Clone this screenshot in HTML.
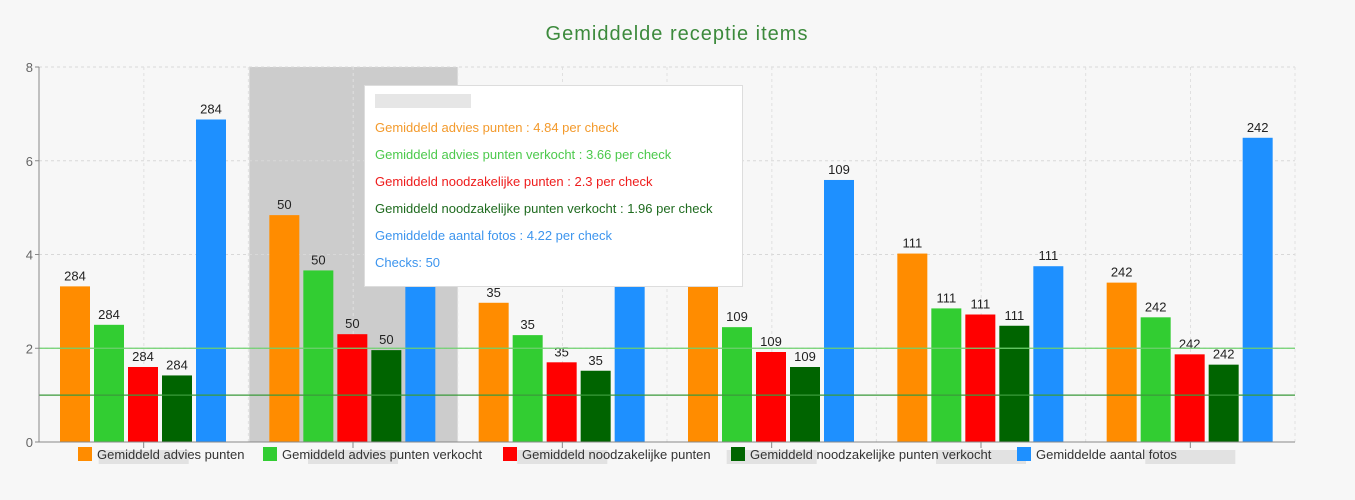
<!DOCTYPE html>
<html><head><meta charset="utf-8">
<style>
body{margin:0;background:#f7f7f7;font-family:"Liberation Sans",sans-serif;}
#wrap{position:relative;width:1355px;height:500px;overflow:hidden;background:#f7f7f7;}
#tip{position:absolute;left:364px;top:85px;width:377px;height:200px;background:#fff;border:1px solid #ddd;font-size:13px;}
#tip div{position:absolute;left:10px;white-space:nowrap;}
</style></head>
<body>
<div id="wrap">
<svg id="chart" width="1355" height="500"></svg>
<div id="tip">
<div style="top:8px;width:96px;height:14px;background:#e6e6e6;"></div>
<div style="top:34px;color:#f39a2c">Gemiddeld advies punten : 4.84 per check</div>
<div style="top:61px;color:#4cc94c">Gemiddeld advies punten verkocht : 3.66 per check</div>
<div style="top:88px;color:#ee1c1c">Gemiddeld noodzakelijke punten : 2.3 per check</div>
<div style="top:115px;color:#1f6b1f">Gemiddeld noodzakelijke punten verkocht : 1.96 per check</div>
<div style="top:142px;color:#3d95ee">Gemiddelde aantal fotos : 4.22 per check</div>
<div style="top:169px;color:#3d95ee">Checks: 50</div>
</div>
</div>
<script>
const categories = ["A","B","C","D","E","F"];
const seriesNames = ["Gemiddeld advies punten","Gemiddeld advies punten verkocht","Gemiddeld noodzakelijke punten","Gemiddeld noodzakelijke punten verkocht","Gemiddelde aantal fotos"];
const advies = [3.32,4.84,2.97,3.4,4.02,3.4];
const adviesVerkocht = [2.5,3.66,2.28,2.45,2.85,2.66];
const noodzakelijk = [1.6,2.3,1.7,1.92,2.72,1.87];
const noodzakelijkVerkocht = [1.42,1.96,1.52,1.6,2.48,1.65];
const fotos = [6.88,4.22,3.6,5.59,3.75,6.49];
const checks = [284,50,35,109,111,242];
const yTicks = [0,2,4,6,8];
const refLines = [2,1];
const highlighted = 1;

const colors = ["#ff8c00","#32cd32","#ff0000","#006400","#1e90ff"];
const series = [advies,adviesVerkocht,noodzakelijk,noodzakelijkVerkocht,fotos];
const X0=39,X1=1295,Y0=442,Y1=67,YMAX=8;
const gw=(X1-X0)/categories.length;
const y=v=>Y0-(v/YMAX)*(Y0-Y1);
const svg=document.getElementById('chart');
const NS="http://www.w3.org/2000/svg";
function mk(t,a,p){const e=document.createElementNS(NS,t);for(const k in a)e.setAttribute(k,a[k]);(p||svg).appendChild(e);return e;}

let t=mk('text',{x:677,y:40,'text-anchor':'middle','font-size':20,fill:'#3c8a3c','letter-spacing':'1'});


t.textContent="Gemiddelde receptie items";

// highlight
let hl=mk('rect',{x:X0+highlighted*gw+1,y:Y1,width:gw-1,height:Y0-Y1,fill:'#cccccc'});



// grid
yTicks.forEach(v=>{
  if(v>0){let g=mk('line',{x1:X0,x2:X1,y1:y(v),y2:y(v),stroke:'#d8d8d8','stroke-dasharray':'3,3'});
  
  }
  let l=mk('text',{x:X0-6,y:y(v)+5,'text-anchor':'end','font-size':13,fill:'#666'});
  
  
  l.textContent=v;
  mk('line',{x1:X0-4,x2:X0,y1:y(v),y2:y(v),stroke:'#888'});
});
for(let i=1;i<=categories.length;i++){
  let g=mk('line',{x1:X0+i*gw-104.5,x2:X0+i*gw-104.5,y1:Y1,y2:Y0,stroke:'#e0e0e0','stroke-dasharray':'3,3'});
  
  
  let g2=mk('line',{x1:X0+i*gw,x2:X0+i*gw,y1:Y1,y2:Y0,stroke:'#e0e0e0','stroke-dasharray':'3,3'});
  
  
}

// bars
categories.forEach((c,ci)=>{
  series.forEach((s,si)=>{
    const cx=X0+ci*gw+36+si*34;
    let b=mk('rect',{x:cx-15,y:y(s[ci]),width:30,height:Y0-y(s[ci]),fill:colors[si]});
    
    
    let l=mk('text',{x:cx,y:y(s[ci])-6,'text-anchor':'middle','font-size':13,fill:'#222'});
    
    
    l.textContent=checks[ci];
  });
  const mx=X0+ci*gw+gw/2;
  mk('line',{x1:mx,x2:mx,y1:Y0,y2:Y0+6,stroke:'#888'});
  let xl=mk('rect',{x:mx-45,y:Y0+8,width:90,height:14,fill:'#e2e2e2'});
  
  
});

// ref lines
refLines.forEach((v,i)=>{
  let r=mk('line',{x1:X0,x2:X1,y1:y(v),y2:y(v),stroke:i==0?'#6fd16f':'#3a9a3a','stroke-width':1.2});
  
  
});
// axes
mk('line',{x1:X0,x2:X0,y1:Y1,y2:Y0,stroke:'#888'});
mk('line',{x1:X0,x2:X1,y1:Y0,y2:Y0,stroke:'#888'});

// legend
const legX=[78,263,503,731,1017];
seriesNames.forEach((n,i)=>{
  let g=mk('g',{});
  
  
  mk('rect',{x:legX[i],y:447,width:14,height:14,fill:colors[i]},g);
  let tx=mk('text',{x:legX[i]+19,y:459,'font-size':13,fill:'#333'},g);
  tx.textContent=n;
});
</script>
</body></html>
